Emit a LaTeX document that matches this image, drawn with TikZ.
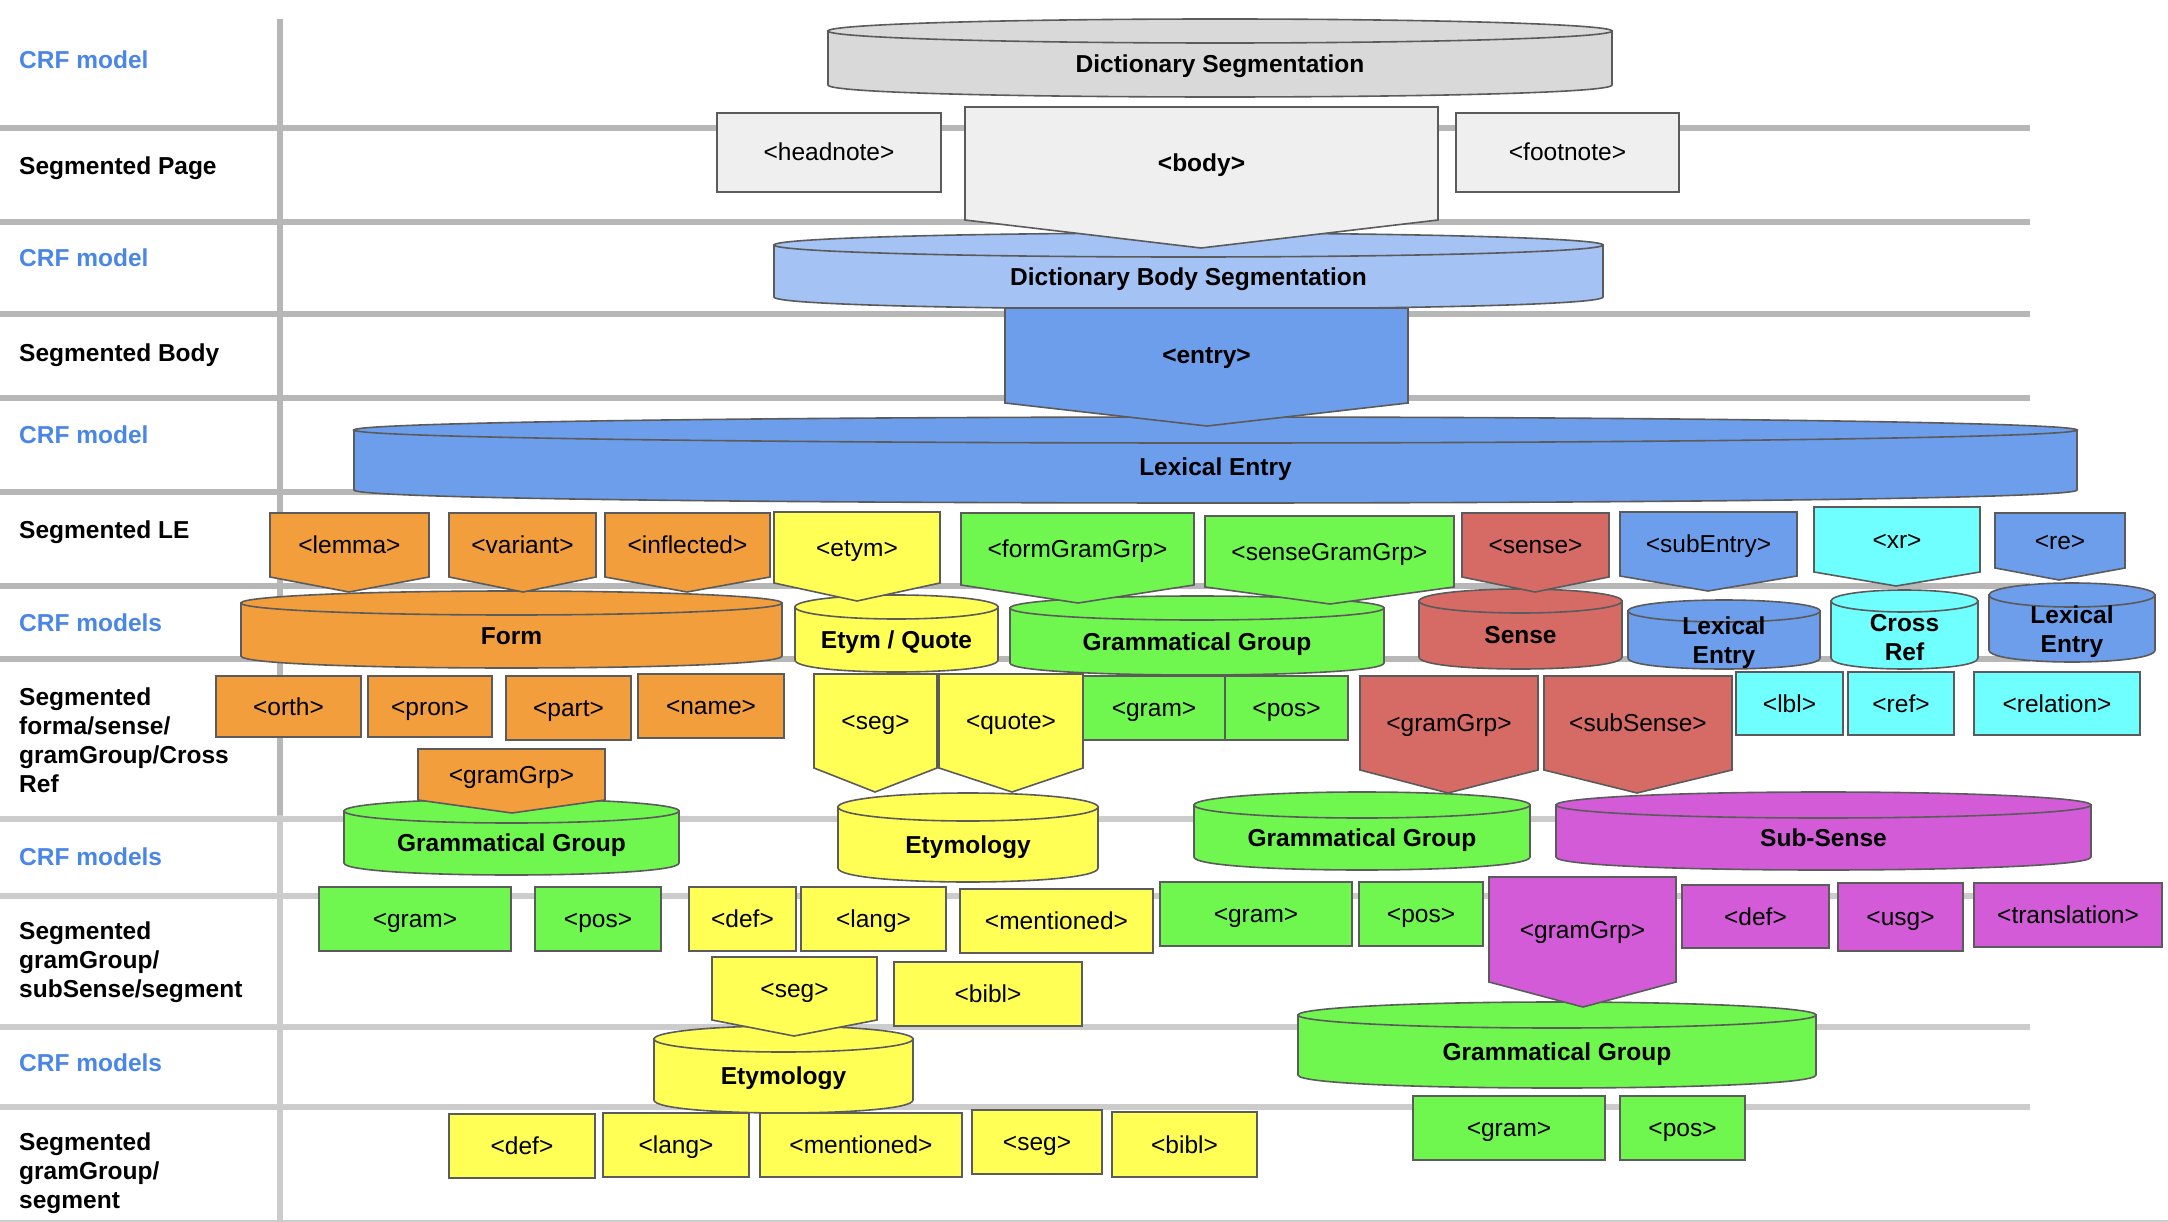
\documentclass[tikz,border=0pt]{standalone}
\usepackage{fontspec}
\setmainfont{Liberation Sans}
\definecolor{bordergray}{HTML}{5B5B5B}
\definecolor{bandgray}{HTML}{B7B7B7}
\definecolor{bandlight}{HTML}{CCCCCC}
\definecolor{crfblue}{HTML}{4A86E8}
\definecolor{pagegray}{HTML}{EFEFEF}
\definecolor{cylgray}{HTML}{D9D9D9}
\definecolor{bodyblue}{HTML}{A4C2F4}
\definecolor{entryblue}{HTML}{6D9EEB}
\definecolor{formorange}{HTML}{F29E3D}
\definecolor{etymyellow}{HTML}{FFFF55}
\definecolor{gramgreen}{HTML}{70F74F}
\definecolor{sensered}{HTML}{D66B66}
\definecolor{xrcyan}{HTML}{70FFFF}
\definecolor{subsensemag}{HTML}{D35BD8}
\tikzset{
  band/.style={line width=6pt},
  rowlabel/.style={anchor=west,align=left,inner sep=0pt,
                   font=\fontsize{24.5}{29}\selectfont\bfseries},
  crflabel/.style={rowlabel,text=crfblue},
  cylline/.style={draw=bordergray,line width=1.6pt},
  cyltext/.style={align=center,inner sep=0pt,
                  font=\fontsize{24.5}{29}\selectfont\bfseries},
  cylsingle/.style={text height=22.2pt,text depth=5.2pt},
  pentline/.style={draw=bordergray,line width=1.6pt,line join=miter},
  tagtext/.style={inner sep=0pt,font=\fontsize{24.5}{29}\selectfont,
                  text height=22.2pt,text depth=5.2pt},
  tagbox/.style={draw=bordergray,line width=1.6pt,inner sep=0pt,outer sep=0pt,
                 font=\fontsize{24.5}{29}\selectfont,
                 text height=22.2pt,text depth=5.2pt}
}
% cylinder: name, fill, left, right, top y, bottom y, y radius, text, text options
\newcommand{\crfcyl}[9]{%
  \filldraw[cylline,fill=#2] (#3,#5) -- (#3,#6)
    .. controls (#3,{#6+1.333*#7}) and (#4,{#6+1.333*#7}) .. (#4,#6) -- (#4,#5) -- cycle;
  \filldraw[cylline,fill=#2] ({(#3+#4)/2},#5) ellipse [x radius={(#4-#3)/2}, y radius=#7];
  \node[cyltext,#9] (#1) at ({(#3+#4)/2},{(#5+#7+#6)/2}) {#8};
}
% tag pointing down: name, fill, left, right, top y, side y, tip x, tip y, text
\newcommand{\tagpent}[9]{%
  \filldraw[pentline,fill=#2] (#3,#5) -- (#4,#5) -- (#4,#6) -- (#7,#8) -- (#3,#6) -- cycle;
  \node[tagtext] (#1) at ({(#3+#4)/2},{(#5+#6)/2}) {#9};
}
\begin{document}
\begin{tikzpicture}[x=1pt,y=-1pt]
  \useasboundingbox (0,0) rectangle (2168,1222);

  % grid
  \foreach \yy in {128,222,314,398,492,586,659}
    \draw[band,bandgray] (0,\yy) -- (2030,\yy);
  \foreach \yy in {819,896,1027,1107}
    \draw[band,bandlight] (0,\yy) -- (2030,\yy);
  \draw[line width=2pt,bandlight] (0,1221) -- (2168,1221);
  \draw[line width=6pt,bandgray] (280,19) -- (280,815);
  \draw[line width=6pt,bandlight] (280,815) -- (280,1222);

  % row labels
  \node[crflabel] (crf1) at (19,60) {CRF model};
  \node[rowlabel] (segpage) at (19,168) {Segmented Page};
  \node[crflabel] (crf2) at (19,258) {CRF model};
  \node[rowlabel] (segbody) at (19,355) {Segmented Body};
  \node[crflabel] (crf3) at (19,435) {CRF model};
  \node[rowlabel] (segle) at (19,532) {Segmented LE};
  \node[crflabel] (crf4) at (19,623) {CRF models};
  \node[rowlabel] (segform) at (19,740) {Segmented\\forma/sense/\\gramGroup/Cross\\Ref};
  \node[crflabel] (crf5) at (19,857) {CRF models};
  \node[rowlabel] (seggram) at (19,962) {Segmented\\gramGroup/\\subSense/segment};
  \node[crflabel] (crf6) at (19,1063) {CRF models};
  \node[rowlabel] (segseg) at (19,1173) {Segmented\\gramGroup/\\segment};

  % models
  \crfcyl{dictseg}{cylgray}{828}{1612}{31}{85}{12}{Dictionary Segmentation}{cylsingle}
  \crfcyl{bodyseg}{bodyblue}{774}{1603}{245}{297}{12}{Dictionary Body Segmentation}{cylsingle}
  \crfcyl{lexentry}{entryblue}{354}{2077}{430}{490}{13}{Lexical Entry}{cylsingle}
  \crfcyl{form}{formorange}{241}{782}{603}{656}{12}{Form}{cylsingle}
  \crfcyl{etymquote}{etymyellow}{795}{998}{607}{660}{12}{Etym / Quote}{cylsingle}
  \crfcyl{gramgrpa}{gramgreen}{1010}{1384}{608}{663}{12}{Grammatical Group}{cylsingle}
  \crfcyl{sense}{sensered}{1419}{1622}{601}{657}{12}{Sense}{cylsingle}
  \crfcyl{lexentryb}{entryblue}{1628}{1820}{611}{658}{11}{Lexical\\Entry}{yshift=-3pt}
  \crfcyl{crossref}{xrcyan}{1831}{1978}{601}{658}{11}{Cross\\Ref}{yshift=-3pt}
  \crfcyl{lexentryc}{entryblue}{1989}{2155}{595}{650}{12}{Lexical\\Entry}{yshift=-3pt}
  \crfcyl{gramgrpb}{gramgreen}{344}{679}{811}{863}{12}{Grammatical Group}{cylsingle}
  \crfcyl{etymologya}{etymyellow}{838}{1098}{807}{868}{14}{Etymology}{cylsingle}
  \crfcyl{gramgrpc}{gramgreen}{1194}{1530}{805}{857}{13}{Grammatical Group}{cylsingle}
  \crfcyl{subsense}{subsensemag}{1556}{2091}{805}{857}{13}{Sub-Sense}{cylsingle}
  \crfcyl{etymologyb}{etymyellow}{654}{913}{1039}{1100}{13}{Etymology}{cylsingle}
  \crfcyl{gramgrpd}{gramgreen}{1298}{1816}{1015}{1075}{13}{Grammatical Group}{cylsingle}

  % segments handed down
  \tagpent{bodytag}{pagegray}{965}{1438}{107}{220}{1201}{248}{\bfseries <body>}
  \tagpent{entrytag}{entryblue}{1005}{1408}{308}{403}{1207}{426}{\bfseries <entry>}
  \tagpent{lemmatag}{formorange}{270}{429}{513}{577}{349}{592}{<lemma>}
  \tagpent{varianttag}{formorange}{449}{596}{513}{577}{523}{592}{<variant>}
  \tagpent{inflectedtag}{formorange}{605}{770}{513}{577}{687}{592}{<inflected>}
  \tagpent{etymtag}{etymyellow}{774}{940}{512}{583}{857}{601}{<etym>}
  \tagpent{formgramtag}{gramgreen}{961}{1194}{513}{585}{1078}{603}{<formGramGrp>}
  \tagpent{sensegramtag}{gramgreen}{1205}{1454}{516}{587}{1330}{604}{<senseGramGrp>}
  \tagpent{sensetag}{sensered}{1462}{1609}{513}{577}{1535}{592}{<sense>}
  \tagpent{subentrytag}{entryblue}{1620}{1797}{512}{576}{1708}{591}{<subEntry>}
  \tagpent{xrtag}{xrcyan}{1814}{1980}{507}{572}{1896}{586}{<xr>}
  \tagpent{retag}{entryblue}{1995}{2125}{513}{568}{2059}{580}{<re>}
  \tagpent{formgrptag}{formorange}{418}{605}{749}{800}{512}{813}{<gramGrp>}
  \tagpent{segtag}{etymyellow}{814}{937}{674}{768}{875}{792}{<seg>}
  \tagpent{quotetag}{etymyellow}{939}{1083}{674}{768}{1012}{792}{<quote>}
  \tagpent{sensegrptag}{sensered}{1360}{1538}{676}{770}{1448}{793}{<gramGrp>}
  \tagpent{subsensetag}{sensered}{1544}{1732}{676}{770}{1637}{793}{<subSense>}
  \tagpent{etymsegtag}{etymyellow}{712}{877}{957}{1020}{794}{1036}{<seg>}
  \tagpent{subgrptag}{subsensemag}{1489}{1676}{877}{982}{1583}{1007}{<gramGrp>}

  % leaf segments
  \node[tagbox,fill=pagegray,minimum width=224pt,minimum height=79pt] (headnote) at (829,152.5) {<headnote>};
  \node[tagbox,fill=pagegray,minimum width=223pt,minimum height=79pt] (footnote) at (1567.5,152.5) {<footnote>};

  \node[tagbox,fill=formorange,minimum width=145pt,minimum height=61pt] (orth) at (288.5,706.5) {<orth>};
  \node[tagbox,fill=formorange,minimum width=124pt,minimum height=61pt] (pron) at (430,706.5) {<pron>};
  \node[tagbox,fill=formorange,minimum width=125pt,minimum height=64pt] (part) at (568.5,708) {<part>};
  \node[tagbox,fill=formorange,minimum width=146pt,minimum height=64pt] (name) at (711,706) {<name>};
  \node[tagbox,fill=gramgreen,minimum width=142pt,minimum height=64pt] (grama) at (1154,708) {<gram>};
  \node[tagbox,fill=gramgreen,minimum width=123pt,minimum height=64pt] (posa) at (1286.5,708) {<pos>};
  \node[tagbox,fill=xrcyan,minimum width=107pt,minimum height=63pt] (lbl) at (1789.5,703.5) {<lbl>};
  \node[tagbox,fill=xrcyan,minimum width=106pt,minimum height=63pt] (ref) at (1901,703.5) {<ref>};
  \node[tagbox,fill=xrcyan,minimum width=166pt,minimum height=63pt] (relation) at (2057,703.5) {<relation>};

  \node[tagbox,fill=gramgreen,minimum width=192pt,minimum height=64pt] (gramb) at (415,919) {<gram>};
  \node[tagbox,fill=gramgreen,minimum width=126pt,minimum height=64pt] (posb) at (598,919) {<pos>};
  \node[tagbox,fill=etymyellow,minimum width=107pt,minimum height=64pt] (defa) at (742.5,919) {<def>};
  \node[tagbox,fill=etymyellow,minimum width=145pt,minimum height=64pt] (langa) at (873.5,919) {<lang>};
  \node[tagbox,fill=etymyellow,minimum width=193pt,minimum height=64pt] (mentioneda) at (1056.5,921) {<mentioned>};
  \node[tagbox,fill=etymyellow,minimum width=188pt,minimum height=64pt] (bibla) at (988,994) {<bibl>};
  \node[tagbox,fill=gramgreen,minimum width=192pt,minimum height=64pt] (gramc) at (1256,914) {<gram>};
  \node[tagbox,fill=gramgreen,minimum width=124pt,minimum height=64pt] (posc) at (1421,914) {<pos>};
  \node[tagbox,fill=subsensemag,minimum width=147pt,minimum height=63pt] (defb) at (1755.5,916.5) {<def>};
  \node[tagbox,fill=subsensemag,minimum width=125pt,minimum height=68pt] (usg) at (1900.5,917) {<usg>};
  \node[tagbox,fill=subsensemag,minimum width=188pt,minimum height=64pt] (translation) at (2068,915) {<translation>};

  \node[tagbox,fill=etymyellow,minimum width=146pt,minimum height=64pt] (defc) at (522,1146) {<def>};
  \node[tagbox,fill=etymyellow,minimum width=146pt,minimum height=64pt] (langb) at (676,1145) {<lang>};
  \node[tagbox,fill=etymyellow,minimum width=202pt,minimum height=64pt] (mentionedb) at (861,1145) {<mentioned>};
  \node[tagbox,fill=etymyellow,minimum width=130pt,minimum height=64pt] (segb) at (1037,1142) {<seg>};
  \node[tagbox,fill=etymyellow,minimum width=145pt,minimum height=65pt] (biblb) at (1184.5,1144.5) {<bibl>};
  \node[tagbox,fill=gramgreen,minimum width=192pt,minimum height=64pt] (gramd) at (1509,1128) {<gram>};
  \node[tagbox,fill=gramgreen,minimum width=125pt,minimum height=64pt] (posd) at (1682.5,1128) {<pos>};
\end{tikzpicture}
\end{document}
